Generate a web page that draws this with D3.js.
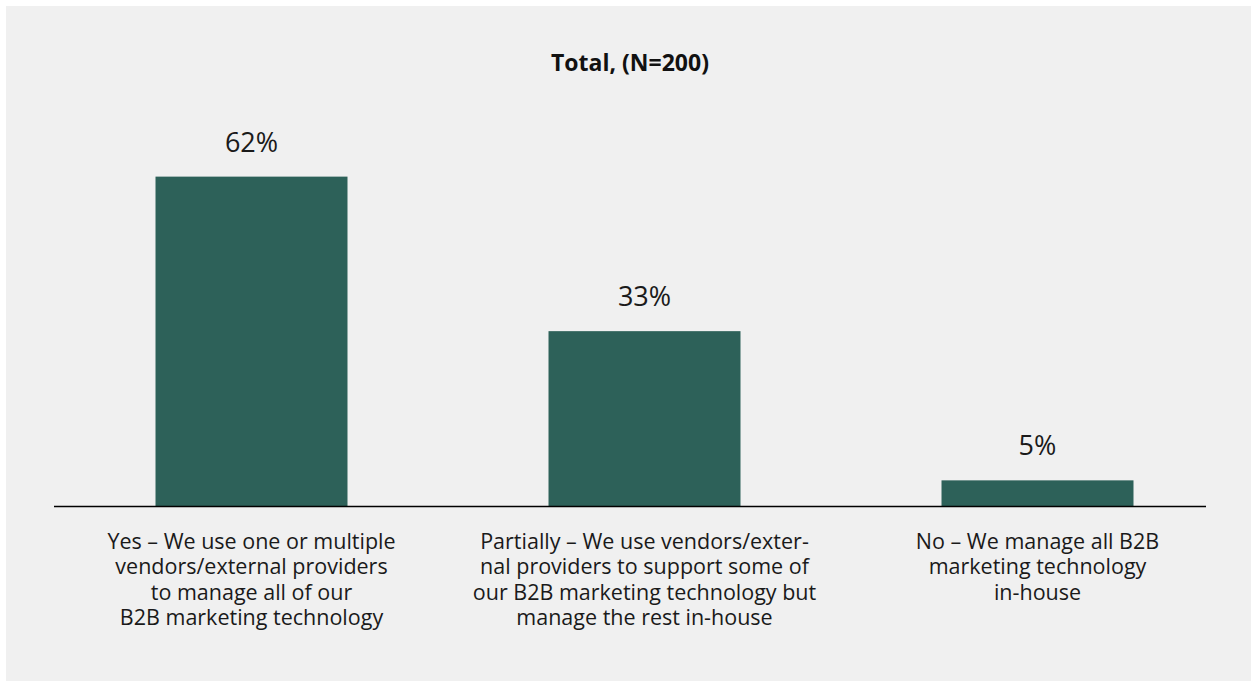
<!DOCTYPE html>
<html>
<head>
<meta charset="utf-8">
<script src="https://cdn.jsdelivr.net/npm/d3@7"></script>
<style>
  html, body { margin: 0; padding: 0; background: #ffffff; }
  svg { display: block; font-family: "Open Sans", "Noto Sans", sans-serif; }
</style>
</head>
<body>
<svg id="chart" width="1251" height="681"></svg>
<script>
// Survey answers and their shares (%)
const categories = [
  ["Yes – We use one or multiple", "vendors/external providers", "to manage all of our", "B2B marketing technology"],
  ["Partially – We use vendors/exter-", "nal providers to support some of", "our B2B marketing technology but", "manage the rest in-house"],
  ["No – We manage all B2B", "marketing technology", "in-house"]
];
const values = [62, 33, 5];
const valueLabels = ["62%", "33%", "5%"];
const title = "Total, (N=200)";

const svg = d3.select("#chart");
const W = 1251, H = 681;

// panel background
svg.append("rect")
  .attr("x", 6).attr("y", 6)
  .attr("width", W - 6).attr("height", H - 6)
  .attr("fill", "#f0f0f0");

const baseY = 507;
const keys = d3.range(values.length);

const x = d3.scaleBand()
  .domain(keys)
  .range([55, 1234])
  .paddingInner(0)
  .paddingOuter(0);

const y = d3.scaleLinear()
  .domain([0, 70])
  .range([baseY, baseY - 373]);

const barW = x.bandwidth() * 0.4885;

// title
svg.append("text")
  .attr("x", 630).attr("y", 71)
  .attr("text-anchor", "middle")
  .attr("font-size", 23)
  .attr("font-weight", 700)
  .attr("fill", "#111")
  .text(title);

// bars
svg.append("g").selectAll("rect")
  .data(values)
  .join("rect")
  .attr("x", (d, i) => x(i) + x.bandwidth() / 2 - barW / 2)
  .attr("width", barW)
  .attr("y", d => y(d))
  .attr("height", d => y(0) - y(d))
  .attr("fill", "#2d6159");

// baseline
svg.append("line")
  .attr("x1", 54).attr("x2", 1206)
  .attr("y1", baseY - 0.5).attr("y2", baseY - 0.5)
  .attr("stroke", "#000")
  .attr("stroke-width", 1.5);

// value labels
svg.append("g").selectAll("text")
  .data(values)
  .join("text")
  .attr("x", (d, i) => x(i) + x.bandwidth() / 2)
  .attr("y", d => y(d) - 25)
  .attr("text-anchor", "middle")
  .attr("font-size", 27)
  .attr("fill", "#1a1a1a")
  .text((d, i) => valueLabels[i]);

// category labels
const cat = svg.append("g").selectAll("text")
  .data(categories)
  .join("text")
  .attr("text-anchor", "middle")
  .attr("font-size", 21.5)
  .attr("fill", "#1a1a1a");

cat.selectAll("tspan")
  .data((lines, i) => lines.map(t => ({ t, i })))
  .join("tspan")
  .attr("x", d => x(d.i) + x.bandwidth() / 2)
  .attr("y", (d, j) => 549 + j * 25.3)
  .text(d => d.t);
</script>
</body>
</html>
